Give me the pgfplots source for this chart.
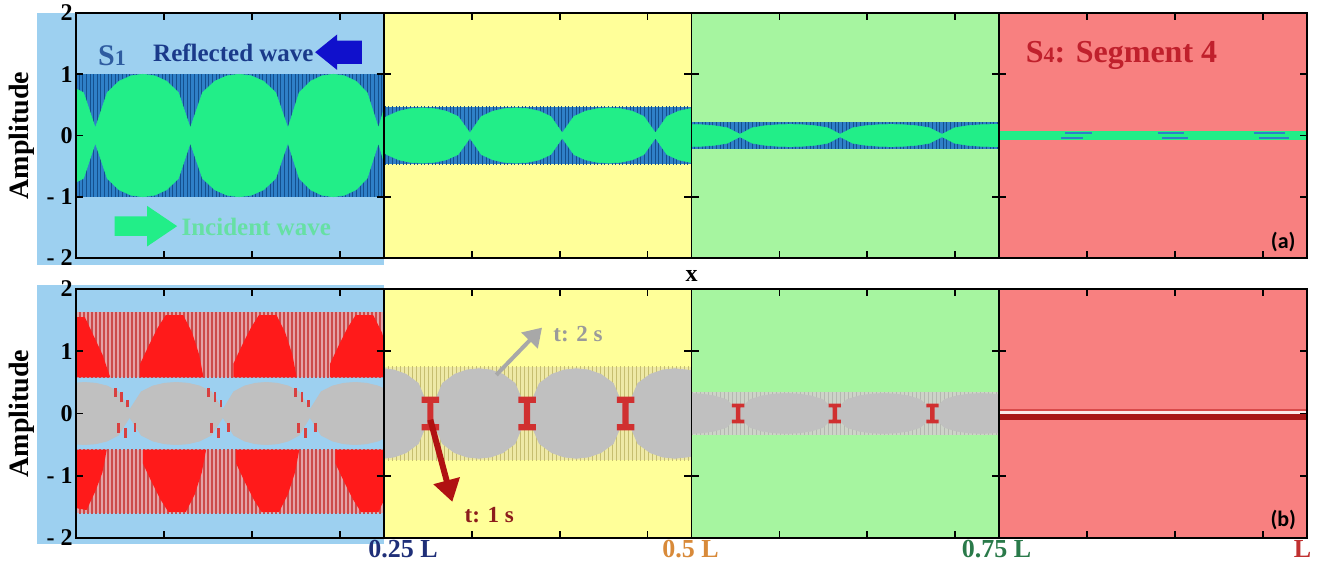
\documentclass[border=0pt]{standalone}
\usepackage{pgfplots}
\usepackage{pgfplotstable}
\pgfplotsset{compat=1.18}
\usepackage{fontspec}
\setmainfont{Liberation Serif}
\newfontfamily\labelsans{Carlito}
\usetikzlibrary{patterns.meta,arrows.meta}

\newcommand\fs[1]{\fontsize{#1}{#1}\selectfont}

% segment backgrounds
\definecolor{bgblue}{HTML}{9DD0F0}
\definecolor{bgyellow}{HTML}{FFFF99}
\definecolor{bggreen}{HTML}{A6F5A0}
\definecolor{bgred}{HTML}{F88080}
% waves
\definecolor{bandblue}{HTML}{2F80C8}
\definecolor{bandbluedark}{HTML}{14508E}
\definecolor{incgreen}{HTML}{22EE88}
\definecolor{wavegray}{HTML}{C0C0C0}
\definecolor{wavered}{HTML}{FF1A1A}
\definecolor{pinkband}{HTML}{E4A2A6}
\definecolor{pinkline}{HTML}{CC4A4A}
\definecolor{paleband}{HTML}{EEE9A6}
\definecolor{palebandline}{HTML}{C6BE70}
\definecolor{grayband}{HTML}{CDD3C8}
\definecolor{graybandline}{HTML}{B4B8B0}
\definecolor{ired}{HTML}{D03030}
\definecolor{strayred}{HTML}{D84040}
\definecolor{lineDark}{HTML}{A81818}
\definecolor{lineLight}{HTML}{FBEAEA}
\definecolor{lineTop}{HTML}{D84A4A}
% annotations
\definecolor{s1blue}{HTML}{2F5CA0}
\definecolor{reflblue}{HTML}{1A3A8A}
\definecolor{arrowblue}{HTML}{1010CC}
\definecolor{inctext}{HTML}{66E0A4}
\definecolor{segred}{HTML}{C0202C}
\definecolor{arrowgray}{HTML}{A8A8A8}
\definecolor{textgray}{HTML}{9A9A9A}
\definecolor{arrowred}{HTML}{B01212}
\definecolor{textred}{HTML}{8C1C1C}
\definecolor{lblA}{HTML}{1F2F78}
\definecolor{lblB}{HTML}{D88A3A}
\definecolor{lblC}{HTML}{2A7A4A}
\definecolor{lblD}{HTML}{C03030}

% ---- envelopes of the waves (upper half; lower half is the mirror) ----
\pgfplotstableread{
x a
0 0.76
0.085 0.70
0.22 0.12
0.355 0.70
0.49 0.886
0.625 0.974
0.76 1.0
0.895 0.974
1.03 0.886
1.165 0.70
1.30 0.12
1.439 0.70
1.578 0.886
1.716 0.974
1.855 1.0
1.994 0.974
2.133 0.886
2.271 0.70
2.41 0.12
2.539 0.70
2.668 0.886
2.796 0.974
2.925 1.0
3.054 0.974
3.183 0.886
3.311 0.70
3.44 0.12
3.5 0.42
}\incSone

\pgfplotstableread{
x a
3.5 0.28
3.535 0.311
3.67 0.397
3.805 0.438
3.94 0.45
4.075 0.438
4.21 0.397
4.345 0.311
4.48 0.04
4.611 0.311
4.743 0.397
4.874 0.438
5.005 0.45
5.136 0.438
5.268 0.397
5.399 0.311
5.53 0.04
5.663 0.311
5.795 0.397
5.928 0.438
6.06 0.45
6.193 0.438
6.325 0.397
6.458 0.311
6.59 0.04
6.721 0.311
6.853 0.397
6.984 0.438
7.0 0.44
}\incStwo

\pgfplotstableread{
x a
7.0 0.179
7.119 0.175
7.263 0.159
7.406 0.126
7.55 0.02
7.693 0.126
7.835 0.159
7.978 0.175
8.12 0.18
8.263 0.175
8.405 0.159
8.548 0.126
8.69 0.02
8.835 0.126
8.98 0.159
9.125 0.175
9.27 0.18
9.415 0.175
9.56 0.159
9.705 0.126
9.85 0.02
9.994 0.126
10.138 0.159
10.281 0.175
10.425 0.18
10.5 0.179
}\incSthree

\pgfplotstableread{
x a
0 0.49
0.095 0.5
0.224 0.487
0.353 0.443
0.481 0.35
0.61 0.06
0.743 0.35
0.875 0.443
1.008 0.487
1.14 0.5
1.273 0.487
1.405 0.443
1.538 0.35
1.67 0.06
1.794 0.35
1.918 0.443
2.041 0.487
2.165 0.5
2.289 0.487
2.413 0.443
2.536 0.35
2.66 0.06
2.789 0.35
2.918 0.443
3.046 0.487
3.175 0.5
3.304 0.487
3.433 0.443
3.5 0.40
}\twoSone

\pgfplotstableread{
x a
3.5 0.72
3.618 0.699
3.755 0.63
3.893 0.485
4.03 0.03
4.168 0.485
4.305 0.63
4.443 0.699
4.58 0.72
4.718 0.699
4.855 0.63
4.993 0.485
5.13 0.03
5.27 0.485
5.41 0.63
5.55 0.699
5.69 0.72
5.83 0.699
5.97 0.63
6.11 0.485
6.25 0.03
6.39 0.485
6.53 0.63
6.67 0.699
6.81 0.72
6.95 0.699
7.0 0.69
}\twoStwo

\pgfplotstableread{
x a
7.0 0.32
7.118 0.312
7.255 0.284
7.393 0.225
7.53 0.04
7.668 0.225
7.805 0.284
7.943 0.312
8.08 0.32
8.218 0.312
8.355 0.284
8.493 0.225
8.63 0.04
8.769 0.225
8.908 0.284
9.046 0.312
9.185 0.32
9.324 0.312
9.463 0.284
9.601 0.225
9.74 0.04
9.879 0.225
10.018 0.284
10.156 0.312
10.295 0.32
10.434 0.312
10.5 0.30
}\twoSthree

\pgfplotsset{
  segaxis/.style={
    scale only axis, width=615.5pt,
    xmin=0, xmax=14, ymin=-2, ymax=2,
    clip=false, axis on top,
    axis line style={line width=1pt},
    xtick={1,2,3,4.5,5.5,6.5,8,9,10,11.5,12.5,13.5},
    xticklabels={},
    ytick={-2,-1,0,1,2},
    yticklabels={- 2,- 1,0,1,2},
    tick align=inside,
    major tick length=3.5pt,
    tick style={line width=0.9pt, black},
    yticklabel style={font=\fs{12}\bfseries, inner xsep=1.5pt},
    anchor=south west,
  },
  env/.style={draw=#1, line width=0.3pt, fill=#1},
}

\begin{document}
\begin{tikzpicture}
\useasboundingbox (0,0) rectangle (659.5pt,285pt);

% ================= panel (a): incident and reflected wave =================
\begin{axis}[segaxis, height=122.5pt, at={(38pt,156pt)}]
  \fill[bgblue]   (axis cs:-0.44,-2.11) rectangle (axis cs:3.5,2);
  \fill[bgyellow] (axis cs:3.5,-2) rectangle (axis cs:7,2);
  \fill[bggreen]  (axis cs:7,-2) rectangle (axis cs:10.5,2);
  \fill[bgred]    (axis cs:10.5,-2) rectangle (axis cs:14,2);

  % reflected wave bands
  \addplot[fill=bandblue, draw=none] coordinates {(0,-1) (3.5,-1) (3.5,1) (0,1)} -- cycle;
  \addplot[pattern={Lines[angle=90,distance=1.8pt,line width=0.5pt]}, pattern color=bandbluedark, draw=none] coordinates {(0,-1) (3.5,-1) (3.5,1) (0,1)} -- cycle;
  \addplot[fill=bandblue, draw=none] coordinates {(3.5,-0.47) (7,-0.47) (7,0.47) (3.5,0.47)} -- cycle;
  \addplot[pattern={Lines[angle=90,distance=1.8pt,line width=0.5pt]}, pattern color=bandbluedark, draw=none] coordinates {(3.5,-0.47) (7,-0.47) (7,0.47) (3.5,0.47)} -- cycle;
  \addplot[fill=bandblue, draw=none] coordinates {(7,-0.22) (10.5,-0.22) (10.5,0.22) (7,0.22)} -- cycle;
  \addplot[pattern={Lines[angle=90,distance=1.8pt,line width=0.5pt]}, pattern color=bandbluedark, draw=none] coordinates {(7,-0.22) (10.5,-0.22) (10.5,0.22) (7,0.22)} -- cycle;

  % incident wave
  \addplot[env=incgreen] table[x=x, y=a] {\incSone} \closedcycle;
  \addplot[env=incgreen] table[x=x, y expr=-\thisrow{a}] {\incSone} \closedcycle;
  \addplot[env=incgreen] table[x=x, y=a] {\incStwo} \closedcycle;
  \addplot[env=incgreen] table[x=x, y expr=-\thisrow{a}] {\incStwo} \closedcycle;
  \addplot[env=incgreen] table[x=x, y=a] {\incSthree} \closedcycle;
  \addplot[env=incgreen] table[x=x, y expr=-\thisrow{a}] {\incSthree} \closedcycle;
  \addplot[fill=incgreen, draw=none] coordinates {(10.5,-0.07) (14,-0.07) (14,0.07) (10.5,0.07)} -- cycle;
  % small reflected remnants in segment 4
  \addplot[bandblue, line width=0.9pt, unbounded coords=jump] coordinates {
    (11.25,0.045) (11.55,0.045) (nan,nan) (11.2,-0.045) (11.45,-0.045) (nan,nan)
    (12.3,0.045) (12.6,0.045) (nan,nan) (12.35,-0.045) (12.65,-0.045) (nan,nan)
    (13.4,0.045) (13.75,0.045) (nan,nan) (13.45,-0.045) (13.8,-0.045)};

  % segment boundaries
  \draw[line width=0.9pt] (axis cs:3.5,-2) -- (axis cs:3.5,2) (axis cs:7,-2) -- (axis cs:7,2) (axis cs:10.5,-2) -- (axis cs:10.5,2);
  \draw[line width=0.9pt] (axis cs:3.42,1) -- (axis cs:3.58,1) (axis cs:3.42,-1) -- (axis cs:3.58,-1)
        (axis cs:6.92,1) -- (axis cs:7.08,1) (axis cs:6.92,-1) -- (axis cs:7.08,-1)
        (axis cs:10.42,1) -- (axis cs:10.58,1) (axis cs:10.42,-1) -- (axis cs:10.58,-1);

  % labels
  \node[rotate=90, font=\fs{14}\bfseries] at (axis cs:-0.62,0) {Amplitude};
  \node[text=s1blue, font=\fs{15}\bfseries] at (axis cs:0.41,1.31) {S{\fs{11}1}};
  \node[text=reflblue, font=\fs{12.5}\bfseries] at (axis cs:1.79,1.35) {Reflected wave};
  \fill[arrowblue] (axis cs:2.72,1.36) -- (axis cs:2.97,1.65) -- (axis cs:2.97,1.55) -- (axis cs:3.25,1.55)
        -- (axis cs:3.25,1.17) -- (axis cs:2.97,1.17) -- (axis cs:2.97,1.07) -- cycle;
  \fill[incgreen] (axis cs:1.15,-1.48) -- (axis cs:0.81,-1.15) -- (axis cs:0.81,-1.32) -- (axis cs:0.44,-1.32)
        -- (axis cs:0.44,-1.64) -- (axis cs:0.81,-1.64) -- (axis cs:0.81,-1.81) -- cycle;
  \node[text=inctext, font=\fs{12.5}\bfseries] at (axis cs:2.05,-1.49) {Incident wave};
  \node[text=segred, font=\fs{16}\bfseries] at (axis cs:11.89,1.31) {S{\fs{11}4}: Segment 4};
  \node[font=\labelsans\fs{11}\bfseries] at (axis cs:13.73,-1.74) {(a)};
  \node[font=\fs{12}\bfseries] at (axis cs:7,-2.29) {x};
\end{axis}

% ================= panel (b): wave at t = 1 s and t = 2 s =================
\begin{axis}[segaxis, height=124.5pt, at={(38pt,16pt)}]
  \fill[bgblue]   (axis cs:-0.44,-2.09) rectangle (axis cs:3.5,2.06);
  \fill[bgyellow] (axis cs:3.5,-2) rectangle (axis cs:7,2);
  \fill[bggreen]  (axis cs:7,-2) rectangle (axis cs:10.5,2);
  \fill[bgred]    (axis cs:10.5,-2) rectangle (axis cs:14,2);

  % t = 1 s, segment 1 bands
  \addplot[fill=pinkband, draw=none] coordinates {(0,0.58) (3.5,0.58) (3.5,1.63) (0,1.63)} -- cycle;
  \addplot[pattern={Lines[angle=90,distance=2pt,line width=0.6pt]}, pattern color=pinkline, draw=none] coordinates {(0,0.58) (3.5,0.58) (3.5,1.63) (0,1.63)} -- cycle;
  \addplot[fill=pinkband, draw=none] coordinates {(0,-1.6) (3.5,-1.6) (3.5,-0.58) (0,-0.58)} -- cycle;
  \addplot[pattern={Lines[angle=90,distance=2pt,line width=0.6pt]}, pattern color=pinkline, draw=none] coordinates {(0,-1.6) (3.5,-1.6) (3.5,-0.58) (0,-0.58)} -- cycle;
  \addplot[fill=wavered, draw=none] coordinates {(0,0.58) (0,1.55) (0.1,1.55) (0.2,1.25) (0.3,0.95) (0.39,0.58)} -- cycle;
  \addplot[fill=wavered, draw=none] coordinates {(0.73,0.58) (0.73,0.80) (0.83,1.10) (0.93,1.38) (1.02,1.58) (1.22,1.58) (1.32,1.30) (1.40,0.95) (1.45,0.58)} -- cycle;
  \addplot[fill=wavered, draw=none] coordinates {(1.79,0.58) (1.79,0.80) (1.89,1.10) (1.99,1.38) (2.08,1.58) (2.28,1.58) (2.38,1.30) (2.46,0.95) (2.51,0.58)} -- cycle;
  \addplot[fill=wavered, draw=none] coordinates {(2.89,0.58) (2.89,0.80) (2.99,1.10) (3.09,1.38) (3.18,1.58) (3.38,1.58) (3.48,1.30) (3.5,1.2) (3.5,0.58)} -- cycle;
  \addplot[fill=wavered, draw=none] coordinates {(0,-0.58) (0,-1.52) (0.12,-1.55) (0.22,-1.25) (0.30,-0.95) (0.35,-0.58)} -- cycle;
  \addplot[fill=wavered, draw=none] coordinates {(0.76,-0.58) (0.76,-0.80) (0.86,-1.10) (0.96,-1.38) (1.05,-1.58) (1.25,-1.58) (1.35,-1.30) (1.43,-0.95) (1.48,-0.58)} -- cycle;
  \addplot[fill=wavered, draw=none] coordinates {(1.82,-0.58) (1.82,-0.80) (1.92,-1.10) (2.02,-1.38) (2.11,-1.58) (2.31,-1.58) (2.41,-1.30) (2.49,-0.95) (2.54,-0.58)} -- cycle;
  \addplot[fill=wavered, draw=none] coordinates {(2.95,-0.58) (2.95,-0.80) (3.05,-1.10) (3.15,-1.38) (3.24,-1.58) (3.44,-1.58) (3.5,-1.40) (3.5,-0.58)} -- cycle;

  % t = 1 s, bands of segments 2 and 3
  \addplot[fill=paleband, draw=none] coordinates {(3.5,-0.75) (7,-0.75) (7,0.75) (3.5,0.75)} -- cycle;
  \addplot[pattern={Lines[angle=90,distance=2pt,line width=0.5pt]}, pattern color=palebandline, draw=none] coordinates {(3.5,-0.75) (7,-0.75) (7,0.75) (3.5,0.75)} -- cycle;
  \addplot[fill=grayband, draw=none] coordinates {(7,-0.34) (10.5,-0.34) (10.5,0.34) (7,0.34)} -- cycle;
  \addplot[pattern={Lines[angle=90,distance=2pt,line width=0.5pt]}, pattern color=graybandline, draw=none] coordinates {(7,-0.34) (10.5,-0.34) (10.5,0.34) (7,0.34)} -- cycle;

  % t = 2 s
  \addplot[env=wavegray] table[x=x, y=a] {\twoSone} \closedcycle;
  \addplot[env=wavegray] table[x=x, y expr=-\thisrow{a}] {\twoSone} \closedcycle;
  \addplot[env=wavegray] table[x=x, y=a] {\twoStwo} \closedcycle;
  \addplot[env=wavegray] table[x=x, y expr=-\thisrow{a}] {\twoStwo} \closedcycle;
  \addplot[env=wavegray] table[x=x, y=a] {\twoSthree} \closedcycle;
  \addplot[env=wavegray] table[x=x, y expr=-\thisrow{a}] {\twoSthree} \closedcycle;

  % t = 1 s remnants near the nodes of segment 1
  \addplot[strayred, line width=1.4pt, unbounded coords=jump] coordinates {
    (0.45,0.27) (0.45,0.41) (nan,nan) (0.52,0.18) (0.52,0.34) (nan,nan) (0.59,0.10) (0.59,0.22) (nan,nan)
    (0.48,-0.16) (0.48,-0.32) (nan,nan) (0.56,-0.24) (0.56,-0.40) (nan,nan) (0.67,-0.15) (0.67,-0.29) (nan,nan)
    (1.51,0.27) (1.51,0.41) (nan,nan) (1.58,0.18) (1.58,0.34) (nan,nan) (1.65,0.10) (1.65,0.22) (nan,nan)
    (1.54,-0.16) (1.54,-0.32) (nan,nan) (1.62,-0.24) (1.62,-0.40) (nan,nan) (1.73,-0.15) (1.73,-0.29) (nan,nan)
    (2.50,0.27) (2.50,0.41) (nan,nan) (2.57,0.18) (2.57,0.34) (nan,nan) (2.64,0.10) (2.64,0.22) (nan,nan)
    (2.53,-0.16) (2.53,-0.32) (nan,nan) (2.61,-0.24) (2.61,-0.40) (nan,nan) (2.72,-0.15) (2.72,-0.29)};
  % t = 1 s remnants at the nodes of segments 2 and 3
  \addplot[fill=ired, draw=none] coordinates {(3.93,0.27) (4.13,0.27) (4.13,0.17) (4.065,0.17) (4.065,-0.17) (4.13,-0.17) (4.13,-0.27) (3.93,-0.27) (3.93,-0.17) (3.995,-0.17) (3.995,0.17) (3.93,0.17)} -- cycle;
  \addplot[fill=ired, draw=none] coordinates {(5.03,0.27) (5.23,0.27) (5.23,0.17) (5.165,0.17) (5.165,-0.17) (5.23,-0.17) (5.23,-0.27) (5.03,-0.27) (5.03,-0.17) (5.095,-0.17) (5.095,0.17) (5.03,0.17)} -- cycle;
  \addplot[fill=ired, draw=none] coordinates {(6.15,0.27) (6.35,0.27) (6.35,0.17) (6.285,0.17) (6.285,-0.17) (6.35,-0.17) (6.35,-0.27) (6.15,-0.27) (6.15,-0.17) (6.215,-0.17) (6.215,0.17) (6.15,0.17)} -- cycle;
  \addplot[fill=ired, draw=none] coordinates {(7.46,0.16) (7.60,0.16) (7.60,0.10) (7.555,0.10) (7.555,-0.10) (7.60,-0.10) (7.60,-0.16) (7.46,-0.16) (7.46,-0.10) (7.505,-0.10) (7.505,0.10) (7.46,0.10)} -- cycle;
  \addplot[fill=ired, draw=none] coordinates {(8.56,0.16) (8.70,0.16) (8.70,0.10) (8.655,0.10) (8.655,-0.10) (8.70,-0.10) (8.70,-0.16) (8.56,-0.16) (8.56,-0.10) (8.605,-0.10) (8.605,0.10) (8.56,0.10)} -- cycle;
  \addplot[fill=ired, draw=none] coordinates {(9.67,0.16) (9.81,0.16) (9.81,0.10) (9.765,0.10) (9.765,-0.10) (9.81,-0.10) (9.81,-0.16) (9.67,-0.16) (9.67,-0.10) (9.715,-0.10) (9.715,0.10) (9.67,0.10)} -- cycle;

  % segment 4: both instants collapse onto a thin line
  \addplot[fill=lineTop, draw=none] coordinates {(10.5,0.04) (14,0.04) (14,0.07) (10.5,0.07)} -- cycle;
  \addplot[fill=lineLight, draw=none] coordinates {(10.5,-0.01) (14,-0.01) (14,0.04) (10.5,0.04)} -- cycle;
  \addplot[fill=lineDark, draw=none] coordinates {(10.5,-0.10) (14,-0.10) (14,-0.01) (10.5,-0.01)} -- cycle;

  % segment boundaries
  \draw[line width=0.9pt] (axis cs:3.5,-2) -- (axis cs:3.5,2) (axis cs:7,-2) -- (axis cs:7,2) (axis cs:10.5,-2) -- (axis cs:10.5,2);
  \draw[line width=0.9pt] (axis cs:3.42,1) -- (axis cs:3.58,1) (axis cs:3.42,-1) -- (axis cs:3.58,-1)
        (axis cs:6.92,1) -- (axis cs:7.08,1) (axis cs:6.92,-1) -- (axis cs:7.08,-1)
        (axis cs:10.42,1) -- (axis cs:10.58,1) (axis cs:10.42,-1) -- (axis cs:10.58,-1);

  % labels
  \node[rotate=90, font=\fs{14}\bfseries] at (axis cs:-0.62,0) {Amplitude};
  \draw[arrowgray, line width=2pt, -{Triangle[length=9pt,width=11pt]}] (axis cs:4.78,0.62) -- (axis cs:5.30,1.38);
  \node[anchor=west, text=textgray, font=\fs{11.5}\bfseries] at (axis cs:5.35,1.27) {t: 2 s};
  \draw[arrowred, line width=3pt, -{Triangle[length=11pt,width=13pt]}] (axis cs:4.03,-0.10) -- (axis cs:4.28,-1.42);
  \node[anchor=west, text=textred, font=\fs{11.5}\bfseries] at (axis cs:4.34,-1.63) {t: 1 s};
  \node[font=\labelsans\fs{11}\bfseries] at (axis cs:13.73,-1.71) {(b)};
  \node[text=lblA, font=\fs{13}\bfseries] at (axis cs:3.72,-2.18) {0.25 L};
  \node[text=lblB, font=\fs{13}\bfseries] at (axis cs:6.99,-2.18) {0.5 L};
  \node[text=lblC, font=\fs{13}\bfseries] at (axis cs:10.47,-2.18) {0.75 L};
  \node[text=lblD, font=\fs{13}\bfseries] at (axis cs:13.95,-2.18) {L};
\end{axis}
\end{tikzpicture}
\end{document}
